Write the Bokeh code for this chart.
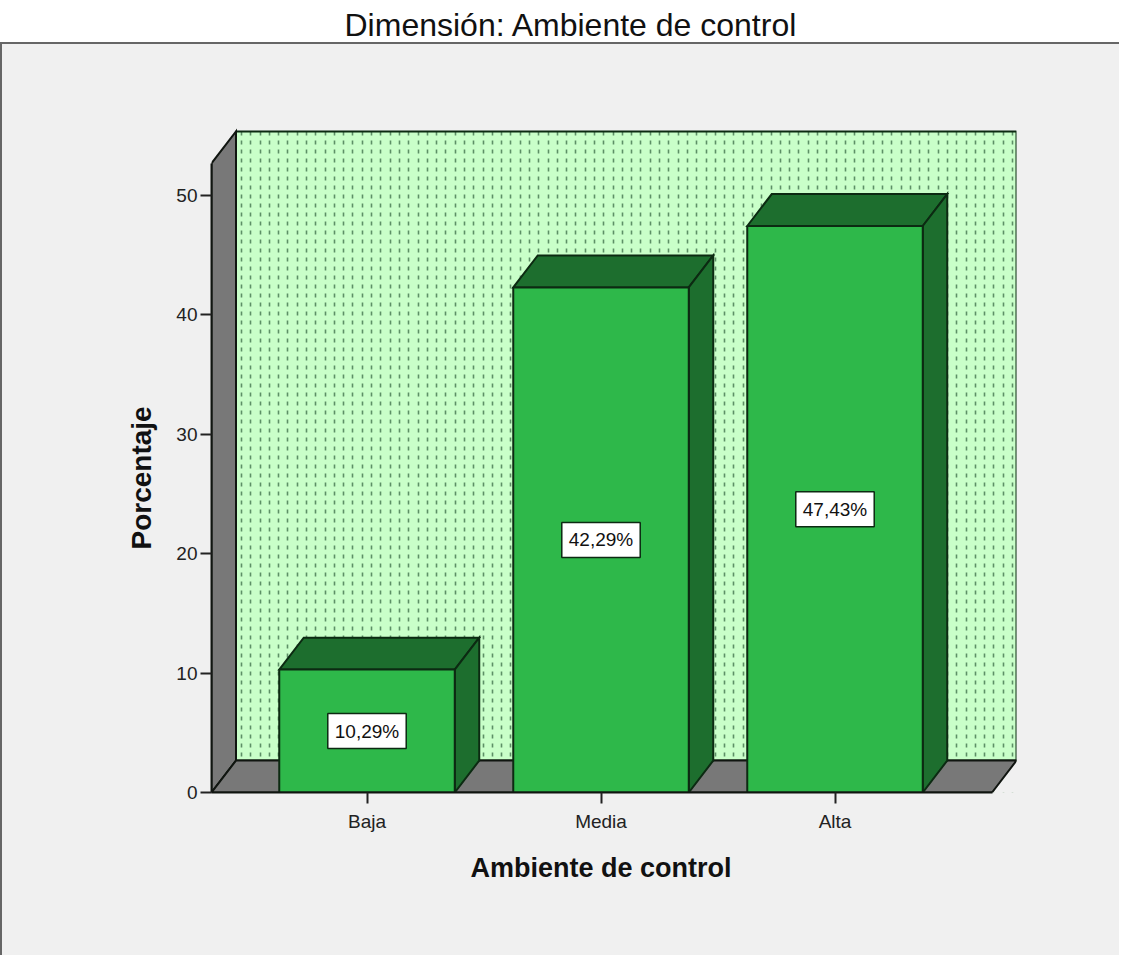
from bokeh.plotting import figure
from bokeh.models import FixedTicker, Range1d, Title
from bokeh.embed import file_html
from bokeh.resources import INLINE
import numpy as np

categories = ["Baja", "Media", "Alta"]
percentages = [10.29, 42.29, 47.43]
value_labels = ["10,29%", "42,29%", "47,43%"]
y_ticks = [0, 10, 20, 30, 40, 50]

FONT = "Liberation Sans"
EDGE = "#0c2a12"
PANEL = "#f0f0f0"

px_x = 234.0              # pixels per category step
px_y = 11.96              # pixels per percent
x0 = (219 - 374.5) / px_x
x1 = (1024 - 374.5) / px_x
y1 = (800 - 138) / px_y   # top of the back wall
ytop = (800 - 53) / px_y  # top of the plot frame
dx = 24.5 / px_x          # depth of the 3D effect
dy = 32 / px_y
bw = 175.5 / px_x

p = figure(width=1119, height=955, output_backend="svg", toolbar_location=None,
           x_range=Range1d(x0, x1), y_range=Range1d(0, ytop),
           min_border_left=211, min_border_right=103, min_border_top=45, min_border_bottom=163,
           background_fill_color=None, border_fill_color=None, outline_line_color=None)

# white strip above the panel and the panel's outline, behind the transparent canvas
p.styles = {"background":
            "linear-gradient(#666666,#666666) 0 42px / 2px 100% no-repeat, "
            f"linear-gradient(white 42px,#666666 42px,#666666 44px,{PANEL} 44px)"}

# title
p.title.text = "Dimensión: Ambiente de control"
p.title.align = "left"
p.title.offset = 133
p.title.standoff = 8
p.title.text_font = FONT
p.title.text_font_size = "32px"
p.title.text_font_style = "normal"
p.title.text_color = "#111111"

# back wall fill (below the dashed pattern)
wx0, wx1 = x0 + dx, x1
fx1 = x1 - dx
p.quad(left=[wx0], right=[wx1], bottom=[dy], top=[y1], fill_color="#c9ffc9", line_color=None, level="image")
# panel-coloured areas hiding the pattern outside the box
p.quad(left=[x0], right=[x1], bottom=[y1], top=[ytop], fill_color=PANEL, line_color=None)
p.patch(x=[fx1, x1, x1], y=[0, 0, dy], fill_color=PANEL, line_color=None)
# back wall outline, left wall, floor
p.quad(left=[wx0], right=[wx1], bottom=[dy], top=[y1], fill_color=None, line_color=EDGE, line_width=2)
p.patches(xs=[[x0, wx0, wx0, x0], [x0, wx0, wx1, fx1]],
          ys=[[0, dy, y1, y1 - dy], [0, dy, dy, 0]],
          fill_color="#787878", line_color="#101510", line_width=2, line_join="miter")

# bars
for i, v in enumerate(percentages):
    l, r = i - bw / 2, i + bw / 2
    p.patches(xs=[[l, l + dx, r + dx, r], [r, r + dx, r + dx, r]],
              ys=[[v, v + dy, v + dy, v], [0, dy, v + dy, v]],
              fill_color="#1d6e2e", line_color=EDGE, line_width=2, line_join="miter")
    p.quad(left=[l], right=[r], bottom=[0], top=[v], fill_color="#2eb84a", line_color=EDGE, line_width=2)

# value labels
p.text(x=list(range(len(categories))), y=[v / 2 for v in percentages], text=value_labels,
       text_font={"value": FONT}, text_font_size={"value": "19px"}, text_align="center", text_baseline="middle",
       text_color="#111111", background_fill_color="white", border_line_color=EDGE, border_line_width=1.5, padding=7)

# axes
xa, ya = p.xaxis[0], p.yaxis[0]
xa.ticker = FixedTicker(ticks=list(range(len(categories))))
xa.major_label_overrides = {i: c for i, c in enumerate(categories)}
xa.bounds = (x0, fx1)
ya.ticker = FixedTicker(ticks=y_ticks)
ya.bounds = (0, y1 - dy)
for a in (xa, ya):
    a.axis_line_color = "#101510"
    a.axis_line_width = 2
    a.major_tick_line_color = "#222222"
    a.major_tick_line_width = 2
    a.major_tick_in = 0
    a.major_tick_out = 11
    a.minor_tick_line_color = None
    a.major_label_text_font = FONT
    a.major_label_text_font_size = "19px"
    a.major_label_text_color = "#222222"
    a.major_label_standoff = 3
xa.major_label_standoff = 7

# axis titles, placed off-centre of the frame as in the reference
p.add_layout(Title(text="Ambiente de control", align="left", offset=259, standoff=33, text_font=FONT,
                   text_font_size="27px", text_font_style="bold", text_color="#111111"), "below")
p.add_layout(Title(text="Porcentaje", align="left", offset=243, standoff=34, text_font=FONT,
                   text_font_size="28px", text_font_style="bold", text_color="#111111"), "left")

# wall dot pattern, drawn as dashed grid lines
p.ygrid.visible = False
g = p.xgrid[0]
g.ticker = FixedTicker(ticks=list(np.arange((249 - 374.5) / px_x, (1022 - 374.5) / px_x, 9.29 / px_x)))
g.grid_line_color = "#5d8f66"
g.grid_line_width = 1.6
g.grid_line_dash = "4 5"

open("out.html", "w").write(file_html(p, INLINE))
